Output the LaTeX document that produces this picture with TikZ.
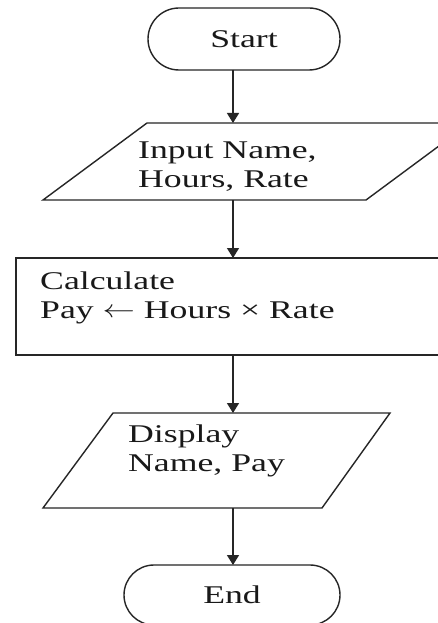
\documentclass[tikz,border=0pt]{standalone}
\usepackage{fontspec}
\setmainfont{Liberation Serif}[FakeStretch=1.4]
\usetikzlibrary{shapes.misc,arrows.meta}
\tikzset{
  shapeline/.style={draw=black!85, line width=1.4pt},
  txt/.style={inner sep=0pt, text=black!90, align=left, font=\fontsize{25.5}{29}\selectfont},
  conn/.style={draw=black!85, line width=1.4pt, -{Triangle[width=12pt,length=10pt]}},
  term/.style={shapeline, rounded rectangle, inner sep=0pt, text=black!90, font=\fontsize{25.5}{29}\selectfont}
}
\newcommand{\lar}{\raisebox{1pt}{\scalebox{1.3}[1]{$\leftarrow$}}}
\begin{document}
\begin{tikzpicture}[x=1pt,y=-1pt]
\useasboundingbox (0,0) rectangle (438,623);
\clip (0,0) rectangle (438,623);
\fill[white] (0,0) rectangle (438,623);
% Start
\node[term, minimum width=192pt, minimum height=62pt] (start) at (244,39) {Start};
% Input
\draw[shapeline] (147,123) -- (470,123) -- (366,200) -- (43,200) -- cycle;
\node[txt, anchor=west] (input) at (138,167) {Input Name,\\Hours, Rate};
\coordinate (inTop) at (233,123);
\coordinate (inBot) at (233,200);
% Calculate
\draw[shapeline] (16,258) rectangle (470,355);
\node[txt, anchor=west] (calc) at (40,298) {Calculate\\Pay \lar{} Hours × Rate};
\coordinate (calTop) at (233,258);
\coordinate (calBot) at (233,355);
% Display
\draw[shapeline] (113,413) -- (390,413) -- (322,508) -- (43,508) -- cycle;
\node[txt, anchor=west] (disp) at (128,451) {Display\\Name, Pay};
\coordinate (dTop) at (233,413);
\coordinate (dBot) at (233,508);
% End
\node[term, minimum width=216pt, minimum height=60pt] (end) at (232,595) {End};
\coordinate (sBot) at (233,70);
\coordinate (eTop) at (233,565);
% connectors
\draw[conn] (sBot) -- (inTop);
\draw[conn] (inBot) -- (calTop);
\draw[conn] (calBot) -- (dTop);
\draw[conn] (dBot) -- (eTop);
\end{tikzpicture}
\end{document}
